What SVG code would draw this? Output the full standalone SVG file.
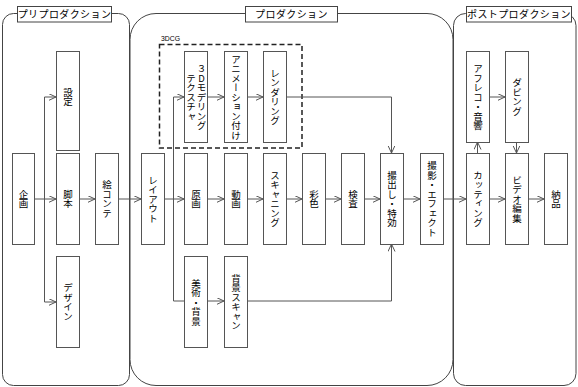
<svg xmlns="http://www.w3.org/2000/svg" width="578" height="387" viewBox="0 0 578 387">
<style>
.bg{fill:#fff}
.sec{fill:none;stroke:#444;stroke-width:1}
.lbl{fill:#fff;stroke:#444;stroke-width:1}
.lt{font-family:"Noto Sans CJK JP","Noto Sans",sans-serif;font-size:10px;fill:#000;text-anchor:middle;letter-spacing:0.4px}
.box{fill:#fff;stroke:#555;stroke-width:1}
.v{font-family:"Noto Sans CJK JP","Noto Sans",sans-serif;font-size:9.5px;fill:#000;writing-mode:vertical-rl;text-anchor:middle}
.up{text-orientation:upright}
.c{fill:none;stroke:#555;stroke-width:1}
.dash{fill:none;stroke:#222;stroke-width:1.5;stroke-dasharray:5 3}
.small{font-family:"Liberation Sans","DejaVu Sans",sans-serif;font-size:8px;fill:#000}
</style>
<defs>
<marker id="ar" markerUnits="userSpaceOnUse" markerWidth="9" markerHeight="8" refX="7.5" refY="3.5" orient="auto" viewBox="0 0 9 8">
<path d="M0,0 L7.5,3.5 L0,7" fill="none" stroke="#555" stroke-width="1"/>
</marker>
</defs>
<rect class="bg" x="0" y="0" width="578" height="387"/>

<g id="sections">
<rect class="sec" x="2.5" y="13.5" width="127" height="372" rx="11"/>
<rect class="sec" x="130" y="13.5" width="323" height="372" rx="26"/>
<rect class="sec" x="453.5" y="13.5" width="122.5" height="372" rx="12"/>
<rect class="lbl" x="17.5" y="6.5" width="94" height="15.5"/>
<text class="lt" x="64.5" y="18">プリプロダクション</text>
<rect class="lbl" x="245.5" y="6.5" width="92" height="15.5"/>
<text class="lt" x="291.5" y="18">プロダクション</text>
<rect class="lbl" x="466.5" y="6.5" width="105" height="15.5"/>
<text class="lt" x="519" y="18">ポストプロダクション</text>
</g>

<g id="group-3dcg">
<rect class="dash" x="159.5" y="44.5" width="142.5" height="103.5"/>
<text class="small" x="161" y="41" textLength="19" lengthAdjust="spacingAndGlyphs">3DCG</text>
</g>

<g id="connectors">
<path class="c" d="M34.5,199 H56" marker-end="url(#ar)"/>
<path class="c" d="M44.5,199 V97 H56" marker-end="url(#ar)"/>
<path class="c" d="M44.5,199 V302 H56" marker-end="url(#ar)"/>
<path class="c" d="M79.5,199 H95" marker-end="url(#ar)"/>
<path class="c" d="M118.5,199 H141" marker-end="url(#ar)"/>
<path class="c" d="M164.5,199 H184" marker-end="url(#ar)"/>
<path class="c" d="M173.5,199 V97 H184" marker-end="url(#ar)"/>
<path class="c" d="M173.5,199 V301 H184"/>
<path class="c" d="M207.5,97 H224" marker-end="url(#ar)"/>
<path class="c" d="M247.5,97 H263" marker-end="url(#ar)"/>
<path class="c" d="M286.5,97 H391.5 V153" marker-end="url(#ar)"/>
<path class="c" d="M207.5,199 H224" marker-end="url(#ar)"/>
<path class="c" d="M247.5,199 H263" marker-end="url(#ar)"/>
<path class="c" d="M286.5,199 H302" marker-end="url(#ar)"/>
<path class="c" d="M325.5,199 H341" marker-end="url(#ar)"/>
<path class="c" d="M364.5,199 H380" marker-end="url(#ar)"/>
<path class="c" d="M403.5,199 H420" marker-end="url(#ar)"/>
<path class="c" d="M443.5,199 H466" marker-end="url(#ar)"/>
<path class="c" d="M207.5,301 H224" marker-end="url(#ar)"/>
<path class="c" d="M247.5,301 H391.5 V244" marker-end="url(#ar)"/>
<path class="c" d="M477.5,153 V142" marker-end="url(#ar)"/>
<path class="c" d="M489.5,97 H505" marker-end="url(#ar)"/>
<path class="c" d="M516.5,142 V153" marker-end="url(#ar)"/>
<path class="c" d="M489.5,199 H505" marker-end="url(#ar)"/>
<path class="c" d="M528.5,199 H544" marker-end="url(#ar)"/>
</g>

<g id="n-kikaku"><rect class="box" x="12.5" y="153.5" width="22" height="91"/><text class="v" x="23.5" y="199">企画</text></g>
<g id="n-settei"><rect class="box" x="56.5" y="51.5" width="23" height="99"/><text class="v" x="68" y="97">設定</text></g>
<g id="n-kyakuhon"><rect class="box" x="56.5" y="153.5" width="23" height="91"/><text class="v" x="68" y="199">脚本</text></g>
<g id="n-design"><rect class="box" x="56.5" y="256.5" width="23" height="91"/><text class="v" x="68" y="302">デザイン</text></g>
<g id="n-ekonte"><rect class="box" x="95.5" y="153.5" width="23" height="91"/><text class="v" x="107" y="199">絵コンテ</text></g>
<g id="n-layout"><rect class="box" x="141.5" y="153.5" width="23" height="91"/><text class="v" x="153" y="199">レイアウト</text></g>

<g id="n-modeling"><rect class="box" x="184.5" y="51.5" width="23" height="91"/><text class="v up" x="201.5" y="97">３Dモデリング</text><text class="v" x="191" y="97">テクスチャ</text></g>
<g id="n-anime"><rect class="box" x="224.5" y="51.5" width="23" height="91"/><text class="v" x="236" y="97">アニメーション付け</text></g>
<g id="n-render"><rect class="box" x="263.5" y="51.5" width="23" height="91"/><text class="v" x="275" y="97">レンダリング</text></g>

<g id="n-genga"><rect class="box" x="184.5" y="153.5" width="23" height="91"/><text class="v" x="196" y="199">原画</text></g>
<g id="n-douga"><rect class="box" x="224.5" y="153.5" width="23" height="91"/><text class="v" x="236" y="199">動画</text></g>
<g id="n-scan"><rect class="box" x="263.5" y="153.5" width="23" height="91"/><text class="v" x="275" y="199">スキャニング</text></g>
<g id="n-saishoku"><rect class="box" x="302.5" y="153.5" width="23" height="91"/><text class="v" x="314" y="199">彩色</text></g>
<g id="n-kensa"><rect class="box" x="341.5" y="153.5" width="23" height="91"/><text class="v" x="353" y="199">検査</text></g>
<g id="n-satsudashi"><rect class="box" x="380.5" y="153.5" width="23" height="91"/><text class="v" x="392" y="199">撮出し・特効</text></g>
<g id="n-satsuei"><rect class="box" x="420.5" y="153.5" width="23" height="91"/><text class="v" x="432" y="199">撮影・エフェクト</text></g>

<g id="n-bijutsu"><rect class="box" x="184.5" y="256.5" width="23" height="91"/><text class="v" x="196" y="302">美術・背景</text></g>
<g id="n-haikeiscan"><rect class="box" x="224.5" y="256.5" width="23" height="91"/><text class="v" x="236" y="302">背景スキャン</text></g>

<g id="n-afreco"><rect class="box" x="466.5" y="51.5" width="23" height="91"/><text class="v" x="478" y="97">アフレコ・音響</text></g>
<g id="n-dubbing"><rect class="box" x="505.5" y="51.5" width="23" height="91"/><text class="v" x="517" y="97">ダビング</text></g>
<g id="n-cutting"><rect class="box" x="466.5" y="153.5" width="23" height="91"/><text class="v" x="478" y="199">カッティング</text></g>
<g id="n-video"><rect class="box" x="505.5" y="153.5" width="23" height="91"/><text class="v" x="517" y="199">ビデオ編集</text></g>
<g id="n-nouhin"><rect class="box" x="544.5" y="153.5" width="23" height="91"/><text class="v" x="556" y="199">納品</text></g>
</svg>
